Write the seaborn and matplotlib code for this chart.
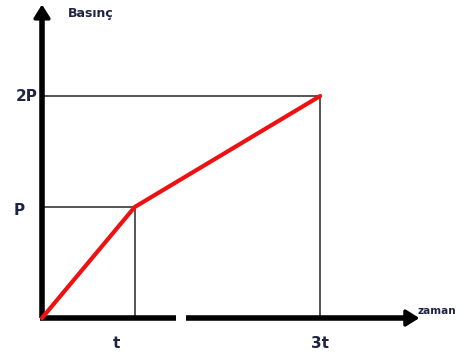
import numpy as np
import pandas as pd
import matplotlib
matplotlib.use("Agg")
import matplotlib.pyplot as plt
import seaborn as sns

sns.set_style("white")
plt.rcParams['font.family'] = ['DejaVu Sans']

# data: time in units of t, pressure in units of P
times = [0, 1, 3]
pressures = [0, 1, 2]
x_labels = ["t", "3t"]
y_labels = ["P", "2P"]
x_name = "zaman"
y_name = "Basınç"

df = pd.DataFrame({"zaman": times, "basinc": pressures})

fig = plt.figure(figsize=(4.75, 3.6), dpi=100)
ax = fig.add_axes([0, 0, 1, 1])

txt_col = "#1e2444"

# guide lines
for xv, yv in zip(times[1:], pressures[1:]):
    ax.plot([0, xv], [yv, yv], color="#555555", lw=1.4, solid_capstyle="butt")
    ax.plot([xv, xv], [0, yv], color="#555555", lw=1.4, solid_capstyle="butt")

# axes (x axis has a small break)
ax.plot([0, 0], [0, 2.72], color="black", lw=4, solid_capstyle="butt")
ax.plot([-0.02, 1.445], [0, 0], color="black", lw=4, solid_capstyle="butt")
ax.plot([1.553, 3.92], [0, 0], color="black", lw=4, solid_capstyle="butt")
ax.annotate("", xy=(0, 2.85), xytext=(0, 2.62),
            arrowprops=dict(arrowstyle="-|>,head_length=0.8,head_width=0.5",
                            color="black", lw=2.5))
ax.annotate("", xy=(4.1, 0), xytext=(3.85, 0),
            arrowprops=dict(arrowstyle="-|>,head_length=0.8,head_width=0.5",
                            color="black", lw=2.5))

# red pressure curve
sns.lineplot(data=df, x="zaman", y="basinc", color="#ee1111", lw=3, ax=ax,
             solid_capstyle="round")
ax.set_xlim(-0.453, 4.67)
ax.set_ylim(-0.378, 2.865)
ax.axis("off")

# labels
for xv, lab in zip(times[1:], x_labels):
    ax.text(xv - 0.2 if lab == "t" else xv, -0.23, lab, ha="center", va="center",
            fontsize=11, fontweight="bold", color=txt_col)
for yv, lab in zip(pressures[1:], y_labels):
    ax.text(-0.05 if lab == "2P" else -0.25, yv - (0.03 if lab == "P" else 0), lab,
            ha="right" if lab == "2P" else "center", va="center",
            fontsize=11, fontweight="bold", color=txt_col)
ax.text(0.28, 2.74, y_name, ha="left", va="center", fontsize=9,
        fontweight="bold", color=txt_col)
ax.text(4.05, 0.06, x_name, ha="left", va="center", fontsize=7.5,
        fontweight="bold", color=txt_col)

fig.savefig("out.png", dpi=100)
